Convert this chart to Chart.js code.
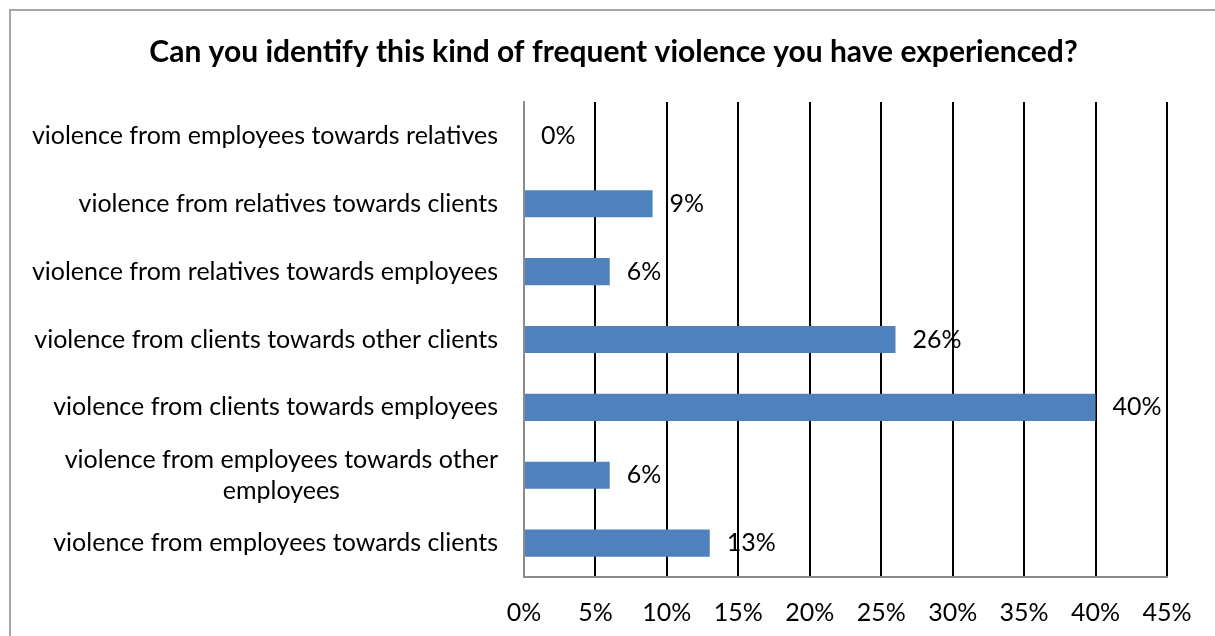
<!DOCTYPE html>
<html>
<head>
<meta charset="utf-8">
<title>Frequent violence</title>
<script src="https://cdn.jsdelivr.net/npm/chart.js@4/dist/chart.umd.min.js"></script>
<style>
    html, body {
        margin: 0;
        padding: 0;
        background: #fff;
    }
    #wrap {
        position: relative;
        width: 1215px;
        height: 636px;
    }
    #frame {
        position: absolute;
        left: 9px;
        top: 9px;
        right: -10px;
        bottom: -10px;
        border-left: 2px solid #a6a6a6;
        border-top: 2px solid #a6a6a6;
    }
</style>
</head>
<body>
<div id="wrap">
    <canvas id="chart" width="1215" height="636"></canvas>
    <div id="frame"></div>
</div>
<script>
const FONT = 'Lato, "Noto Sans", sans-serif';

const categories = [
    'violence from employees towards relatives',
    'violence from relatives towards clients',
    'violence from relatives towards employees',
    'violence from clients towards other clients',
    'violence from clients towards employees',
    ['violence from employees towards other', 'employees'],
    'violence from employees towards clients'
];
const shares = [0, 9, 6, 26, 40, 6, 13];
const xTicks = [0, 5, 10, 15, 20, 25, 30, 35, 40, 45];

// category labels drawn by hand so the wrapped one is centred under itself
const categoryLabels = {
    id: 'categoryLabels',
    afterDraw(chart) {
        const ctx = chart.ctx;
        const y = chart.scales.y;
        const right = chart.chartArea.left - 26;
        ctx.save();
        ctx.font = '25px ' + FONT;
        ctx.fillStyle = '#000';
        ctx.textBaseline = 'middle';
        ctx.textAlign = 'center';
        categories.forEach((label, i) => {
            const lines = Array.isArray(label) ? label : [label];
            const maxW = Math.max(...lines.map(l => ctx.measureText(l).width));
            const cx = right - maxW / 2;
            const lh = 31;
            const py = y.getPixelForTick(i);
            lines.forEach((l, k) => {
                ctx.fillText(l, cx, py + (k - (lines.length - 1) / 2) * lh);
            });
        });
        ctx.restore();
    }
};

// percentage printed just past the end of each bar
const valueLabels = {
    id: 'valueLabels',
    afterDatasetsDraw(chart) {
        const ctx = chart.ctx;
        const meta = chart.getDatasetMeta(0);
        ctx.save();
        ctx.font = '25px ' + FONT;
        ctx.fillStyle = '#000';
        ctx.textAlign = 'left';
        ctx.textBaseline = 'middle';
        meta.data.forEach((bar, i) => {
            ctx.fillText(shares[i] + '%', bar.x + 17, bar.y);
        });
        ctx.restore();
    }
};

new Chart(document.getElementById('chart'), {
    type: 'bar',
    data: {
        labels: categories,
        datasets: [{
            data: shares,
            backgroundColor: '#4f81bd',
            borderWidth: 0,
            categoryPercentage: 1,
            barPercentage: 0.4
        }]
    },
    options: {
        indexAxis: 'y',
        responsive: false,
        animation: false,
        layout: {
            padding: { left: 12, right: 0, top: 0, bottom: 0 }
        },
        plugins: {
            legend: { display: false },
            tooltip: { enabled: false },
            title: {
                display: true,
                text: 'Can you identify this kind of frequent violence you have experienced?',
                color: '#000',
                font: { family: FONT, size: 30, weight: 'bold', lineHeight: 1.2 },
                padding: { top: 34, bottom: 32 }
            }
        },
        scales: {
            x: {
                min: 0,
                max: 45,
                afterBuildTicks(scale) {
                    scale.ticks = xTicks.map(v => ({ value: v }));
                },
                afterFit(scale) {
                    scale.height = 59;
                },
                ticks: {
                    color: '#000',
                    padding: 21,
                    font: { family: FONT, size: 25 },
                    callback: v => v + '%'
                },
                grid: {
                    drawTicks: false,
                    lineWidth: 2,
                    color: ctx => ctx.tick && ctx.tick.value === 0 ? '#8c8c8c' : '#000'
                },
                border: { display: true, color: '#8c8c8c', width: 2 }
            },
            y: {
                afterFit(scale) {
                    scale.width = 512;
                },
                ticks: { display: false },
                grid: { display: false, drawTicks: false },
                border: { display: true, color: '#8c8c8c', width: 2 }
            },
            // empty strip on the right keeps the plot clear of the window edge
            gutter: {
                axis: 'y',
                position: 'right',
                afterFit(scale) {
                    scale.width = 48;
                },
                ticks: { display: false },
                grid: { display: false, drawTicks: false },
                border: { display: false }
            }
        }
    },
    plugins: [categoryLabels, valueLabels]
});
</script>
</body>
</html>
